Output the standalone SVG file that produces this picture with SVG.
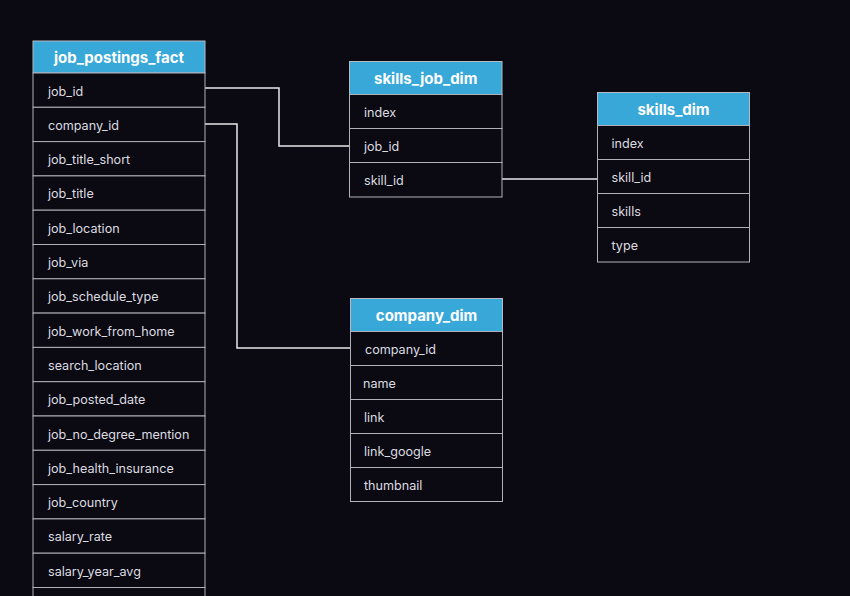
<svg xmlns="http://www.w3.org/2000/svg" width="850" height="596" viewBox="0 0 850 596">
<style>
.bg{fill:#0b0a12}
.hdr{fill:#38a8d9;stroke:#b8b8c0;stroke-width:1}
.row{fill:#0b0a12;stroke:#b0b0b8;stroke-width:1}
.ht{font-family:Inter,"Liberation Sans",sans-serif;font-weight:700;font-size:15px;fill:#ffffff;text-anchor:middle;dominant-baseline:central}
.rt{font-family:Inter,"Liberation Sans",sans-serif;font-size:12.6px;fill:#dcdce0;dominant-baseline:central}
.conn{fill:none;stroke:#e8e8ec;stroke-width:1.5}
</style>
<rect class="bg" x="0" y="0" width="850" height="596"/>
<g id="connectors">
<polyline class="conn" points="205,88 279,88 279,146 349.5,146"/>
<polyline class="conn" points="205,124 237,124 237,348 350,348"/>
<polyline class="conn" points="502,179 597,179"/>
</g>
<g id="job_postings_fact">
<rect class="hdr" x="33" y="41" width="172" height="32"/>
<text class="ht" x="119" y="57">job_postings_fact</text>
<rect class="row" x="33" y="73" width="172" height="34.3"/>
<text class="rt" x="48" y="91">job_id</text>
<rect class="row" x="33" y="107.3" width="172" height="34.3"/>
<text class="rt" x="48" y="125.3">company_id</text>
<rect class="row" x="33" y="141.6" width="172" height="34.3"/>
<text class="rt" x="48" y="159.6">job_title_short</text>
<rect class="row" x="33" y="175.9" width="172" height="34.3"/>
<text class="rt" x="48" y="193.9">job_title</text>
<rect class="row" x="33" y="210.2" width="172" height="34.3"/>
<text class="rt" x="48" y="228.2">job_location</text>
<rect class="row" x="33" y="244.5" width="172" height="34.3"/>
<text class="rt" x="48" y="262.5">job_via</text>
<rect class="row" x="33" y="278.8" width="172" height="34.3"/>
<text class="rt" x="48" y="296.8">job_schedule_type</text>
<rect class="row" x="33" y="313.1" width="172" height="34.3"/>
<text class="rt" x="48" y="331.1">job_work_from_home</text>
<rect class="row" x="33" y="347.4" width="172" height="34.3"/>
<text class="rt" x="48" y="365.4">search_location</text>
<rect class="row" x="33" y="381.7" width="172" height="34.3"/>
<text class="rt" x="48" y="399.7">job_posted_date</text>
<rect class="row" x="33" y="416" width="172" height="34.3"/>
<text class="rt" x="48" y="434">job_no_degree_mention</text>
<rect class="row" x="33" y="450.3" width="172" height="34.3"/>
<text class="rt" x="48" y="468.3">job_health_insurance</text>
<rect class="row" x="33" y="484.6" width="172" height="34.3"/>
<text class="rt" x="48" y="502.6">job_country</text>
<rect class="row" x="33" y="518.9" width="172" height="34.3"/>
<text class="rt" x="48" y="536.9">salary_rate</text>
<rect class="row" x="33" y="553.2" width="172" height="34.3"/>
<text class="rt" x="48" y="571.2">salary_year_avg</text>
<rect class="row" x="33" y="587.5" width="172" height="34.3"/>
</g>
<g id="skills_job_dim">
<rect class="hdr" x="349.5" y="61.5" width="152.5" height="33"/>
<text class="ht" x="425.7" y="78">skills_job_dim</text>
<rect class="row" x="349.5" y="94.5" width="152.5" height="34"/>
<text class="rt" x="364" y="112.3">index</text>
<rect class="row" x="349.5" y="128.5" width="152.5" height="34"/>
<text class="rt" x="364" y="146.3">job_id</text>
<rect class="row" x="349.5" y="162.5" width="152.5" height="34.5"/>
<text class="rt" x="364" y="180.8">skill_id</text>
</g>
<g id="skills_dim">
<rect class="hdr" x="597.5" y="92.5" width="152" height="33"/>
<text class="ht" x="673.5" y="109">skills_dim</text>
<rect class="row" x="597.5" y="125.5" width="152" height="34"/>
<text class="rt" x="611.5" y="143">index</text>
<rect class="row" x="597.5" y="159.5" width="152" height="34"/>
<text class="rt" x="611.5" y="177">skill_id</text>
<rect class="row" x="597.5" y="193.5" width="152" height="34"/>
<text class="rt" x="611.5" y="211">skills</text>
<rect class="row" x="597.5" y="227.5" width="152" height="34.5"/>
<text class="rt" x="611.5" y="245.5">type</text>
</g>
<g id="company_dim">
<rect class="hdr" x="350.5" y="298.5" width="152" height="33"/>
<text class="ht" x="426.5" y="315">company_dim</text>
<rect class="row" x="350.5" y="331.5" width="152" height="34"/>
<text class="rt" x="365" y="349">company_id</text>
<rect class="row" x="350.5" y="365.5" width="152" height="34"/>
<text class="rt" x="363" y="383">name</text>
<rect class="row" x="350.5" y="399.5" width="152" height="34"/>
<text class="rt" x="364" y="417">link</text>
<rect class="row" x="350.5" y="433.5" width="152" height="34"/>
<text class="rt" x="364" y="451">link_google</text>
<rect class="row" x="350.5" y="467.5" width="152" height="34"/>
<text class="rt" x="364" y="485">thumbnail</text>
</g>
</svg>
